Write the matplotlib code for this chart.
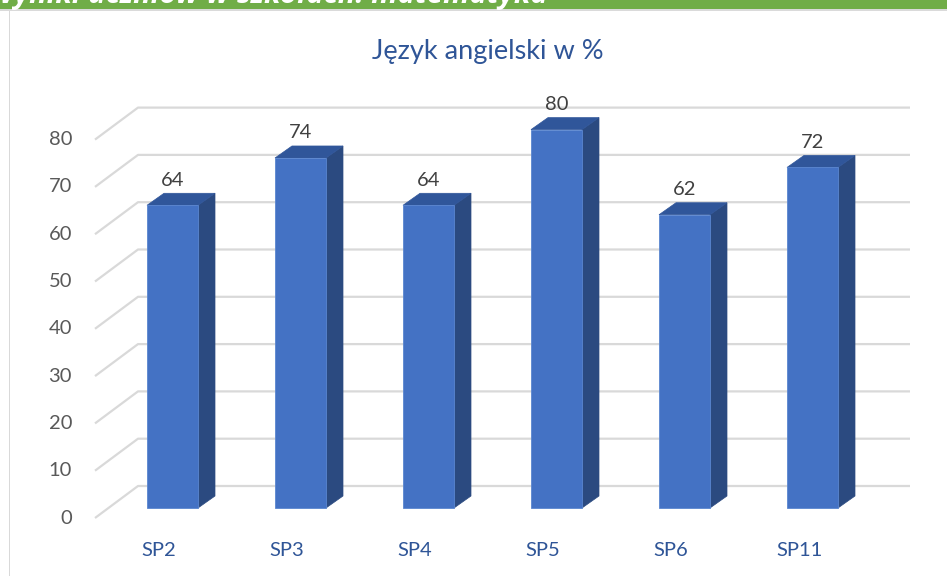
import matplotlib
matplotlib.use("Agg")
import matplotlib.pyplot as plt
from matplotlib.patches import Polygon, Rectangle

categories = ["SP2", "SP3", "SP4", "SP5", "SP6", "SP11"]
values = [64, 74, 64, 80, 62, 72]
yticks = [0, 10, 20, 30, 40, 50, 60, 70, 80]
title = "Język angielski w %"
banner = "Wyniki uczniów w szkołach: matematyka"

W, H, DPI = 947, 576, 100
fig = plt.figure(figsize=(W / DPI, H / DPI), dpi=DPI)
ax = fig.add_axes([0, 0, 1, 1])
# pixel mapping helpers: category unit = 128 px, value unit = 4.73 px
XU, YU = 128.0, 4.73
X0, Y0 = 172.5, 508.0
ax.set_xlim((0 - X0) / XU, (W - X0) / XU)
ax.set_ylim((Y0 - H) / YU, (Y0 - 0) / YU)
ax.axis("off")

font = "Lato"
grid_c = "#D9D9D9"

# 3D geometry (data units)
bar_w = 51 / XU
dx = 17 / XU
dy = 12 / YU
back_dy = 22 / YU
front_dy = -10 / YU
back_x0 = (138 - X0) / XU
back_x1 = (910 - X0) / XU
front_x = (95 - X0) / XU

for t in yticks:
    ax.plot([front_x, back_x0, back_x1], [t + front_dy, t + back_dy, t + back_dy],
            color=grid_c, lw=1.6, solid_capstyle="butt", zorder=1)
    ax.text((72 - X0) / XU, t + front_dy, str(t), ha="right", va="center",
            fontsize=14.5, color="#595959", family=font)

front_c = "#4472C4"
side_c = "#2B4A80"
top_c = "#30569A"
for i, (c, v) in enumerate(zip(categories, values)):
    x0 = i - bar_w / 2
    x1 = i + bar_w / 2
    ax.add_patch(Polygon([(x1, 0), (x1 + dx, dy), (x1 + dx, v + dy), (x1, v)],
                         closed=True, fc=side_c, ec=side_c, lw=0.5, zorder=3))
    ax.add_patch(Polygon([(x0, v), (x1, v), (x1 + dx, v + dy), (x0 + dx, v + dy)],
                         closed=True, fc=top_c, ec=top_c, lw=0.5, zorder=3))
    ax.add_patch(Rectangle((x0, 0), bar_w, v, fc=front_c, ec="#5A86D0", lw=0.6, zorder=4))
    ax.text(i, v + 25 / YU, f"{v:g}", ha="center", va="center",
            fontsize=14.5, color="#404040", family=font, zorder=5)
    ax.text(i - 13.5 / XU, (Y0 - 550) / YU, c, ha="center", va="center",
            fontsize=14.5, color="#2F5597", family=font)

ax.text((488 - X0) / XU, (Y0 - 52) / YU, title, ha="center", va="center",
        fontsize=19.5, color="#2F5597", family=font)

# banner and frame
fig.patches.append(Rectangle((0, 1 - 9 / H), 1, 9 / H, transform=fig.transFigure,
                             fc="#70AD47", ec="none", zorder=0))
fig.patches.append(Rectangle((0, 1 - 10.5 / H), 1, 1.5 / H, transform=fig.transFigure,
                             fc="#DADADA", ec="none", zorder=0))
fig.patches.append(Rectangle((8.5 / W, 0), 1.5 / W, 1 - 10.5 / H, transform=fig.transFigure,
                             fc="#D9D9D9", ec="none", zorder=0))
fig.text(-12 / W, 1 + 4.5 / H, banner, ha="left", va="center", fontsize=21,
         color="white", fontweight="bold", style="italic", family="Open Sans",
         clip_on=False)

fig.savefig("out.png", dpi=DPI)
